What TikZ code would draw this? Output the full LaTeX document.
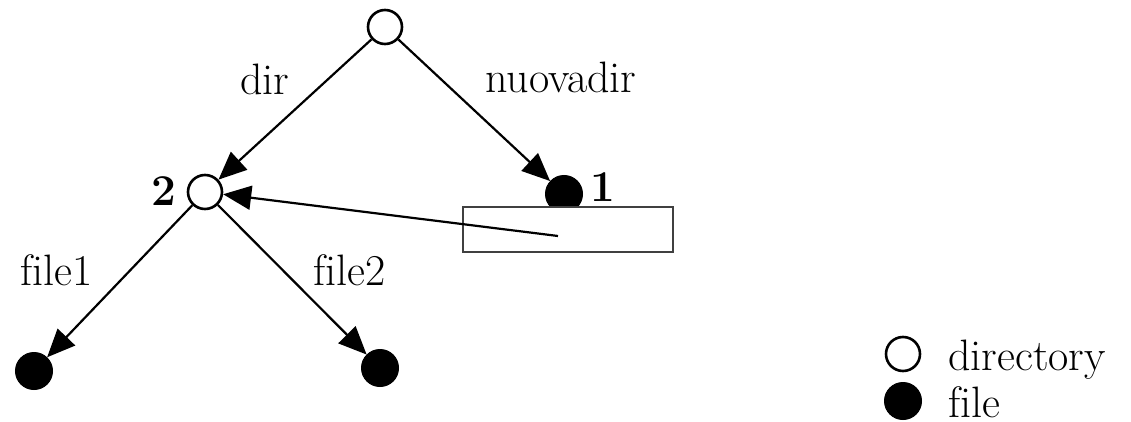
\documentclass[tikz,border=0pt]{standalone}
\usetikzlibrary{arrows.meta}
\begin{document}
\begin{tikzpicture}[x=1pt,y=-1pt,
  dirnode/.style={circle,draw=black,line width=2.6pt,fill=white,minimum size=34pt,inner sep=0pt},
  filenode/.style={circle,fill=black,draw=black,line width=1pt,minimum size=37pt,inner sep=0pt},
  edge/.style={line width=2.2pt,-{Triangle[length=28pt,width=24pt]}},
  lbl/.style={font=\fontsize{44}{50}\selectfont,inner sep=0pt},
  num/.style={font=\fontsize{44}{50}\selectfont\bfseries,inner sep=0pt}]
\useasboundingbox (0,0) rectangle (1131,422);
% nodes
\node[dirnode] (root) at (385,27) {};
\node[dirnode] (two) at (205,192) {};
\node[filenode] (one) at (564,194) {};
\node[draw=black!75,line width=2.6pt,fill=white,minimum width=210pt,minimum height=45pt,inner sep=0pt] (box) at (568,229.5) {};
\coordinate (boxin) at (558,236);
\node[filenode] (leafL) at (34,371) {};
\node[filenode] (leafR) at (380,368) {};
\node[num] (n2) at (164,191) {2};
\node[num] (n1) at (603,187) {1};
% edges
\draw[edge] (root) -- (two);
\draw[edge] (root) -- (one);
\draw[edge] (two) -- (leafL);
\draw[edge] (two) -- (leafR);
\draw[edge] (boxin) -- (two);
% edge labels
\node[lbl,anchor=base] (ldir) at (265,95) {dir};
\node[lbl,anchor=base west] (lnuova) at (485,93) {nuovadir};
\node[lbl,anchor=base west] (lf1) at (20,285) {f\kern0pt ile1};
\node[lbl,anchor=base west] (lf2) at (313,285) {f\kern0pt ile2};
% legend
\node[dirnode] (legD) at (903,354) {};
\node[filenode] (legF) at (903,401) {};
\node[lbl,anchor=base west] (tD) at (948,370) {directory};
\node[lbl,anchor=base west] (tF) at (948,417) {f\kern0pt ile};
\end{tikzpicture}
\end{document}
